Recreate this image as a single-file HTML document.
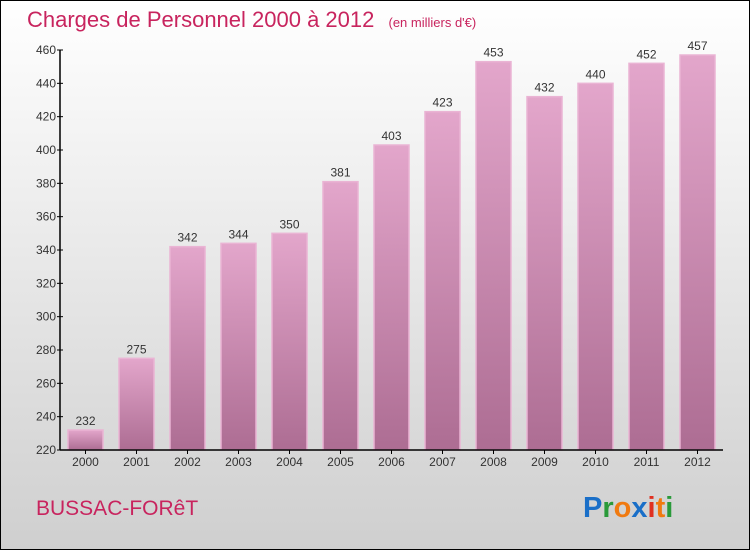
<!DOCTYPE html>
<html><head><meta charset="utf-8"><style>
body{margin:0}
svg{display:block;font-family:"Liberation Sans",sans-serif}
</style></head><body>
<svg width="750" height="550" viewBox="0 0 750 550">
<defs>
<linearGradient id="bg" x1="0" y1="0" x2="0" y2="1"><stop offset="0" stop-color="#ffffff"/><stop offset="1" stop-color="#cfcfcf"/></linearGradient>
<linearGradient id="bar" x1="0" y1="0" x2="0" y2="1"><stop offset="0" stop-color="#e3a6cb"/><stop offset="1" stop-color="#ad6d93"/></linearGradient>
</defs>
<rect x="0.5" y="0.5" width="749" height="549" fill="url(#bg)" stroke="#000"/>
<text x="27" y="27" font-size="22" fill="#c8245e">Charges de Personnel 2000 à 2012 <tspan font-size="13" dx="8">(en milliers d'€)</tspan></text>
<g id="plot"></g>
<text x="36" y="515" font-size="21" fill="#c8245e">BUSSAC-FORêT</text>
<text x="583" y="517" font-size="29" font-weight="bold"><tspan fill="#1a6fc8">P</tspan><tspan fill="#2a9a3a">r</tspan><tspan fill="#f07a10">o</tspan><tspan fill="#1a6fc8">x</tspan><tspan fill="#e03020">i</tspan><tspan fill="#f07a10">t</tspan><tspan fill="#2a9a3a">i</tspan></text>
</svg>
<script>
const categories=["2000","2001","2002","2003","2004","2005","2006","2007","2008","2009","2010","2011","2012"];
const values=[232,275,342,344,350,381,403,423,453,432,440,452,457];
const ticks=[220,240,260,280,300,320,340,360,380,400,420,440,460];
const NS="http://www.w3.org/2000/svg";
const g=document.getElementById("plot");
const x0=60,band=51,yMin=220,yMax=460,yTop=50,yBot=450;
const y=v=>yBot-(v-yMin)/(yMax-yMin)*(yBot-yTop);
const xc=i=>x0+band*i+band/2;
function mk(t,a){const e=document.createElementNS(NS,t);for(const k in a)e.setAttribute(k,a[k]);g.appendChild(e);return e;}
values.forEach((v,i)=>{
 const r=mk("rect",{x:xc(i)-17.5,y:y(v),width:35,height:yBot-y(v),fill:"url(#bar)",stroke:"#eab4d4","stroke-width":1.5});
 
 
 const t=mk("text",{x:xc(i),y:y(v)-5,"text-anchor":"middle","font-size":12,fill:"#333"});
 t.textContent=v;
 
 
 const c=mk("text",{x:xc(i),y:466,"text-anchor":"middle","font-size":12,fill:"#333"});
 c.textContent=categories[i];
 
 
 mk("line",{x1:xc(i),x2:xc(i),y1:yBot,y2:yBot+4,stroke:"#000"});
});
ticks.forEach(v=>{
 mk("line",{x1:x0-3,x2:x0+3,y1:y(v),y2:y(v),stroke:"#000"});
 const t=mk("text",{x:x0-4,y:y(v)+4,"text-anchor":"end","font-size":12,fill:"#333"});
 t.textContent=v;
 
 
});
const ya=mk("line",{x1:x0,x2:x0,y1:yTop,y2:yBot,stroke:"#000","stroke-width":1.5});


const xa=mk("line",{x1:x0,x2:x0+band*13,y1:yBot,y2:yBot,stroke:"#000","stroke-width":1.5});


</script>
</body></html>
